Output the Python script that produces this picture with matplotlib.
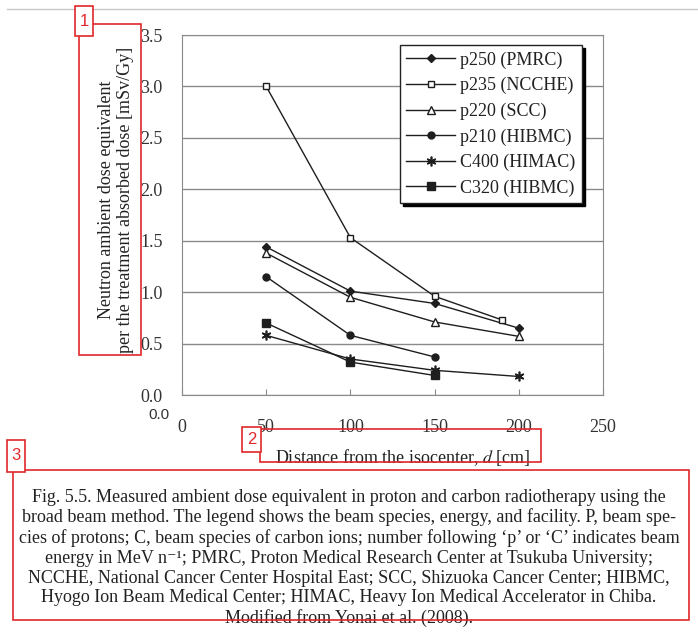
import matplotlib
matplotlib.use("Agg")
import matplotlib.pyplot as plt
from matplotlib.patches import Rectangle
from matplotlib.lines import Line2D

plt.rcParams['font.family'] = ['Liberation Serif', 'DejaVu Serif']
plt.rcParams['mathtext.fontset'] = 'stix'

# Neutron ambient dose equivalent vs distance from isocenter
dist = [50, 100, 150, 200]
dist_ncche = [50, 100, 150, 190]
dist_short = [50, 100, 150]
p250_pmrc = [1.44, 1.01, 0.89, 0.65]
p235_ncche = [3.00, 1.53, 0.96, 0.73]
p220_scc = [1.38, 0.95, 0.71, 0.57]
p210_hibmc = [1.15, 0.58, 0.37]
c400_himac = [0.58, 0.35, 0.24, 0.18]
c320_hibmc = [0.70, 0.32, 0.19]

labels = ['p250 (PMRC)', 'p235 (NCCHE)', 'p220 (SCC)',
          'p210 (HIBMC)', 'C400 (HIMAC)', 'C320 (HIBMC)']
xticks = [0, 50, 100, 150, 200, 250]
yticks = [0.0, 0.5, 1.0, 1.5, 2.0, 2.5, 3.0, 3.5]

caption = ("Fig. 5.5. Measured ambient dose equivalent in proton and carbon radiotherapy using the\n"
           "broad beam method. The legend shows the beam species, energy, and facility. P, beam spe-\n"
           "cies of protons; C, beam species of carbon ions; number following \u2018p\u2019 or \u2018C\u2019 indicates beam\n"
           "energy in MeV n\u207b\u00b9; PMRC, Proton Medical Research Center at Tsukuba University;\n"
           "NCCHE, National Cancer Center Hospital East; SCC, Shizuoka Cancer Center; HIBMC,\n"
           "Hyogo Ion Beam Medical Center; HIMAC, Heavy Ion Medical Accelerator in Chiba.\n"
           "Modified from Yonai et al. (2008).")

W, H = 698, 632
fig = plt.figure(figsize=(W / 100, H / 100), dpi=100)


def px(x, y):
    return x / W, 1 - y / H


ax = fig.add_axes([182 / W, 1 - 395 / H, 421 / W, 360 / H])
ink = '#1e1e1e'
ax.plot(dist, p250_pmrc, color=ink, lw=1, marker='D', ms=4.5, mfc=ink, label=labels[0])
ax.plot(dist_ncche, p235_ncche, color=ink, lw=1, marker='s', ms=5, mfc='white', label=labels[1])
ax.plot(dist, p220_scc, color=ink, lw=1, marker='^', ms=5.5, mfc='white', label=labels[2])
ax.plot(dist_short, p210_hibmc, color=ink, lw=1, marker='o', ms=5, mfc=ink, label=labels[3])
ax.plot(dist, c400_himac, color=ink, lw=1, marker=(6, 2, 0), ms=7, mew=1.2, label=labels[4])
ax.plot(dist_short, c320_hibmc, color=ink, lw=1, marker='s', ms=6, mfc=ink, label=labels[5])

ax.set_xlim(0, 250)
ax.set_ylim(0, 3.5)
ax.set_xticks(xticks)
ax.set_yticks(yticks)
ax.set_yticklabels([f'{v:.1f}' for v in yticks])
ax.yaxis.grid(True, color='#8a8a8a', lw=1)
ax.set_axisbelow(True)
for s in ax.spines.values():
    s.set_color('#8a8a8a')
ax.tick_params(axis='y', length=0, pad=14, labelsize=13, labelcolor='#333333')
ax.tick_params(axis='x', direction='in', length=4, color='#8a8a8a', pad=17,
               labelsize=13, labelcolor='#333333')

leg = ax.legend(loc='upper right', bbox_to_anchor=(0.950, 0.972), fontsize=13,
                frameon=True, fancybox=False, framealpha=1, edgecolor='#222222',
                shadow={'color': 'black', 'alpha': 1}, labelspacing=0.46,
                handlelength=2.7, handletextpad=0.3, borderpad=0.35, borderaxespad=0)
leg.get_frame().set_linewidth(1)
for t in leg.get_texts():
    t.set_color('#222222')

# axis titles
fig.text(*px(116, 200), 'Neutron ambient dose equivalent\nper the treatment absorbed dose [mSv/Gy]',
         rotation=90, ha='center', va='center', multialignment='center',
         fontsize=13, linespacing=1.15, color='#222222')
fig.text(*px(403, 458), 'Distance from the isocenter, $d$ [cm]', ha='center', va='center',
         fontsize=13, color='#222222')
fig.text(*px(159, 415), '0.0', ha='center', va='center', fontsize=11,
         family='Liberation Sans', color='#333333')

fig.text(*px(349, 558), caption, ha='center', va='center', multialignment='center',
         fontsize=13, linespacing=1.21, color='#222222')

# page rule and annotation boxes
fig.add_artist(Line2D([7 / W, 1], [1 - 9 / H] * 2, color='#c8c8c8', lw=1))
red = '#e0282a'


def box(x0, y0, x1, y1, fill=False):
    r = Rectangle(px(x0, y1), (x1 - x0) / W, (y1 - y0) / H, transform=fig.transFigure,
                  fill=fill, facecolor='white', edgecolor=red, lw=1.2, zorder=5)
    fig.add_artist(r)


box(79, 24, 141, 355)
box(75, 6, 93, 36, fill=True)
fig.text(*px(84, 21), '1', ha='center', va='center', color=red, fontsize=12,
         family='Liberation Sans', zorder=6)
box(260, 429, 541, 462)
box(242, 427, 261, 452, fill=True)
fig.text(*px(251.5, 440), '2', ha='center', va='center', color=red, fontsize=12,
         family='Liberation Sans', zorder=6)
box(13, 470, 689, 620)
box(7, 440, 25, 472, fill=True)
fig.text(*px(16, 456), '3', ha='center', va='center', color=red, fontsize=12,
         family='Liberation Sans', zorder=6)

fig.savefig('out.png', dpi=100)
